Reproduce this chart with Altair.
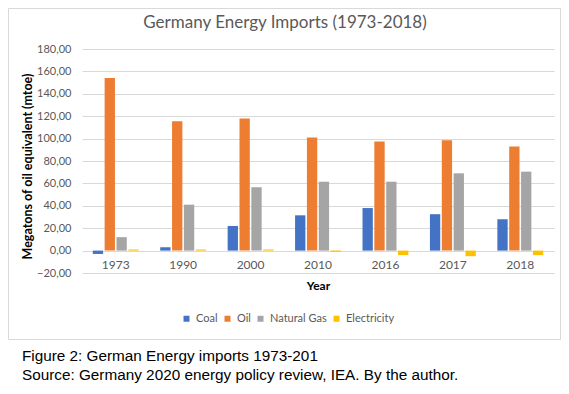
import altair as alt
import pandas as pd

years = ["1973", "1990", "2000", "2010", "2016", "2017", "2018"]
series = ["Coal", "Oil", "Natural Gas", "Electricity"]
coal = [-3, 3, 22, 31.5, 38, 32.5, 28]
oil = [154, 115.5, 118, 101, 97.5, 98.5, 93]
gas = [12, 41, 56.5, 61.5, 61.5, 69, 70.5]
elec = [1, 1, 1, -1, -4, -5, -4]
colors = ["#4472C4", "#ED7D31", "#A5A5A5", "#FFC000"]
y_ticks = [-20, 0, 20, 40, 60, 80, 100, 120, 140, 160, 180]

chart_title = "Germany Energy Imports (1973-2018)"
caption_line1 = "Figure 2: German Energy imports 1973-201"
caption_line2 = "Source: Germany 2020 energy policy review, IEA. By the author."

rows = []
for name, vals in zip(series, [coal, oil, gas, elec]):
    for yr, v in zip(years, vals):
        rows.append({"Year": yr, "Source": name, "Value": v})
df = pd.DataFrame(rows)

W, H = 472, 224

bars = alt.Chart(df).mark_bar().encode(
    x=alt.X("Year:N", sort=years,
            scale=alt.Scale(paddingInner=0.32, paddingOuter=0.16),
            axis=alt.Axis(title="Year", offset=-22, grid=False, domain=False,
                          ticks=False, labelAngle=0, labelPadding=8,
                          labelFont="Lato", labelFontSize=12, labelColor="#595959",
                          titleFont="Lato", titleFontSize=12, titleFontWeight="bold",
                          titleColor="#000000", titleY=34, titleBaseline="middle")),
    xOffset=alt.XOffset("Source:N", sort=series,
                        scale=alt.Scale(paddingInner=0.13, paddingOuter=0)),
    y=alt.Y("Value:Q",
            scale=alt.Scale(domain=[-20, 180], nice=False, zero=False),
            axis=alt.Axis(values=y_ticks, title="Megatons of oil equivalent (mtoe)",
                          labelExpr="replace(format(datum.value, '.2f'), '.', ',')",
                          domain=False, ticks=False, labelPadding=11,
                          labelFont="Lato", labelFontSize=11, labelColor="#595959",
                          gridColor="#d9d9d9", gridWidth=1,
                          titleFont="Lato", titleFontSize=12.5, titleFontWeight="bold",
                          titleColor="#000000", titleAngle=270, titleX=-55, titleY=117,
                          titleAlign="center", titleBaseline="middle")),
    color=alt.Color("Source:N", sort=series,
                    scale=alt.Scale(domain=series, range=colors),
                    legend=alt.Legend(title=None, orient="none", direction="horizontal",
                                      legendX=99, legendY=264, symbolType="square",
                                      symbolSize=36, symbolStrokeWidth=0,
                                      labelFont="Lato", labelFontSize=11,
                                      labelColor="#595959", labelOffset=4,
                                      columnPadding=4)),
)

one = alt.Data(values=[{}])

border = alt.Chart(one).mark_rect(fill=None, stroke="#d9d9d9", strokeWidth=1).encode(
    x=alt.value(-73.5), x2=alt.value(478.5), y=alt.value(-40.5), y2=alt.value(290.5)
)

title_mark = alt.Chart(one).mark_text(
    font="Lato", fontSize=17, color="#595959", align="center", baseline="alphabetic"
).encode(x=alt.value(203), y=alt.value(-21), text=alt.value(chart_title))

cap_style = dict(font="Liberation Sans", fontSize=15.3, color="#000000",
                 align="left", baseline="middle")
cap1 = alt.Chart(one).mark_text(**cap_style).encode(
    x=alt.value(-60), y=alt.value(307), text=alt.value(caption_line1))
cap2 = alt.Chart(one).mark_text(**cap_style).encode(
    x=alt.value(-60), y=alt.value(326), text=alt.value(caption_line2))

chart = alt.layer(border, bars, title_mark, cap1, cap2).properties(
    width=W, height=H,
    autosize=alt.AutoSizeParams(type="none"),
    padding={"left": 74, "top": 41, "right": 7, "bottom": 113},
).configure_view(stroke=None)

chart.save("out.html", embed_options={"renderer": "svg", "actions": False})
